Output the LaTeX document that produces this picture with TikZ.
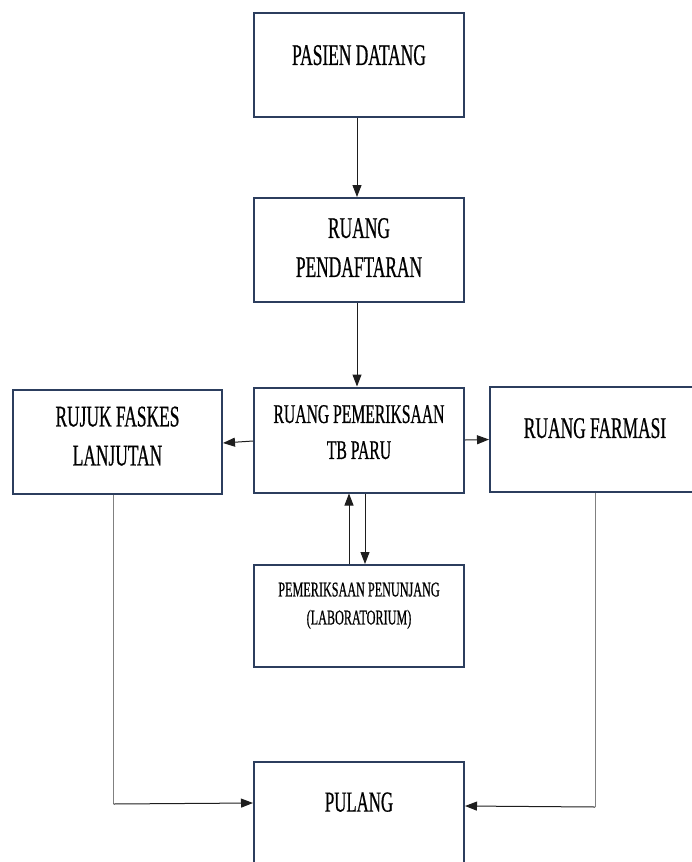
\documentclass[tikz,border=0pt]{standalone}
\usepackage{fontspec}
\setmainfont{Liberation Serif}[FakeStretch=0.58,FakeBold=0.6]
\usetikzlibrary{arrows.meta}
\definecolor{boxnavy}{RGB}{44,62,94}
\definecolor{linegray}{RGB}{30,30,30}

\begin{document}
\begin{tikzpicture}[x=1pt,y=-1pt,
  room/.style={draw=boxnavy, line width=2pt, minimum width=210pt, minimum height=104pt,
    inner sep=0pt, align=center, font=\fontsize{30}{39}\selectfont},
  lift/.style={text depth=#1pt},
  flow/.style={draw=linegray, line width=1pt, -{Triangle[length=12pt,width=9pt]}},
  thin/.style={draw=gray, line width=0.7pt}]
\useasboundingbox (0,0) rectangle (691,862);
% Rooms
\node[room, lift=20] (datang) at (359,65) {PASIEN DATANG};
\node[room, lift=5] (daftar) at (359,250) {RUANG\\PENDAFTARAN};
\node[room, lift=16, minimum height=105pt, font=\fontsize{27}{36}\selectfont] (periksa) at (359,440) {RUANG PEMERIKSAAN\\TB PARU};
\node[room, lift=12, minimum width=209pt] (rujuk) at (117.5,442) {RUJUK FASKES\\LANJUTAN};
\node[room, lift=23, minimum height=105pt] (farmasi) at (595,439.5) {RUANG FARMASI};
\node[room, lift=25, minimum height=102pt, font=\fontsize{21}{28}\selectfont] (penunjang) at (359,616) {PEMERIKSAAN PENUNJANG\\(LABORATORIUM)};
\node[room, lift=24, font=\fontsize{29}{38}\selectfont] (pulang) at (359,814) {PULANG};
% Flow
\draw[flow] ([xshift=-2pt]datang.south) -- ([xshift=-2pt]daftar.north);
\draw[flow] ([xshift=-2pt]daftar.south) -- ([xshift=-2pt]periksa.north);
\draw[flow] ([yshift=-1pt]periksa.west) -- ([yshift=-1pt]rujuk.east);
\draw[flow] (periksa.east) -- (farmasi.west);
\draw[flow] ([xshift=-10pt]penunjang.north) -- ([xshift=-10pt]periksa.south);
\draw[flow] ([xshift=6pt]periksa.south) -- ([xshift=6pt]penunjang.north);
% Going home
\draw[thin] ([xshift=-4pt]rujuk.south) -- ++(0,309) coordinate (lbend);
\draw[flow] (lbend) -- ([yshift=11pt]pulang.west);
\draw[thin] (farmasi.south) -- ++(0,314) coordinate (rbend);
\draw[flow] (rbend) -- ([yshift=8pt]pulang.east);
\end{tikzpicture}
\end{document}
